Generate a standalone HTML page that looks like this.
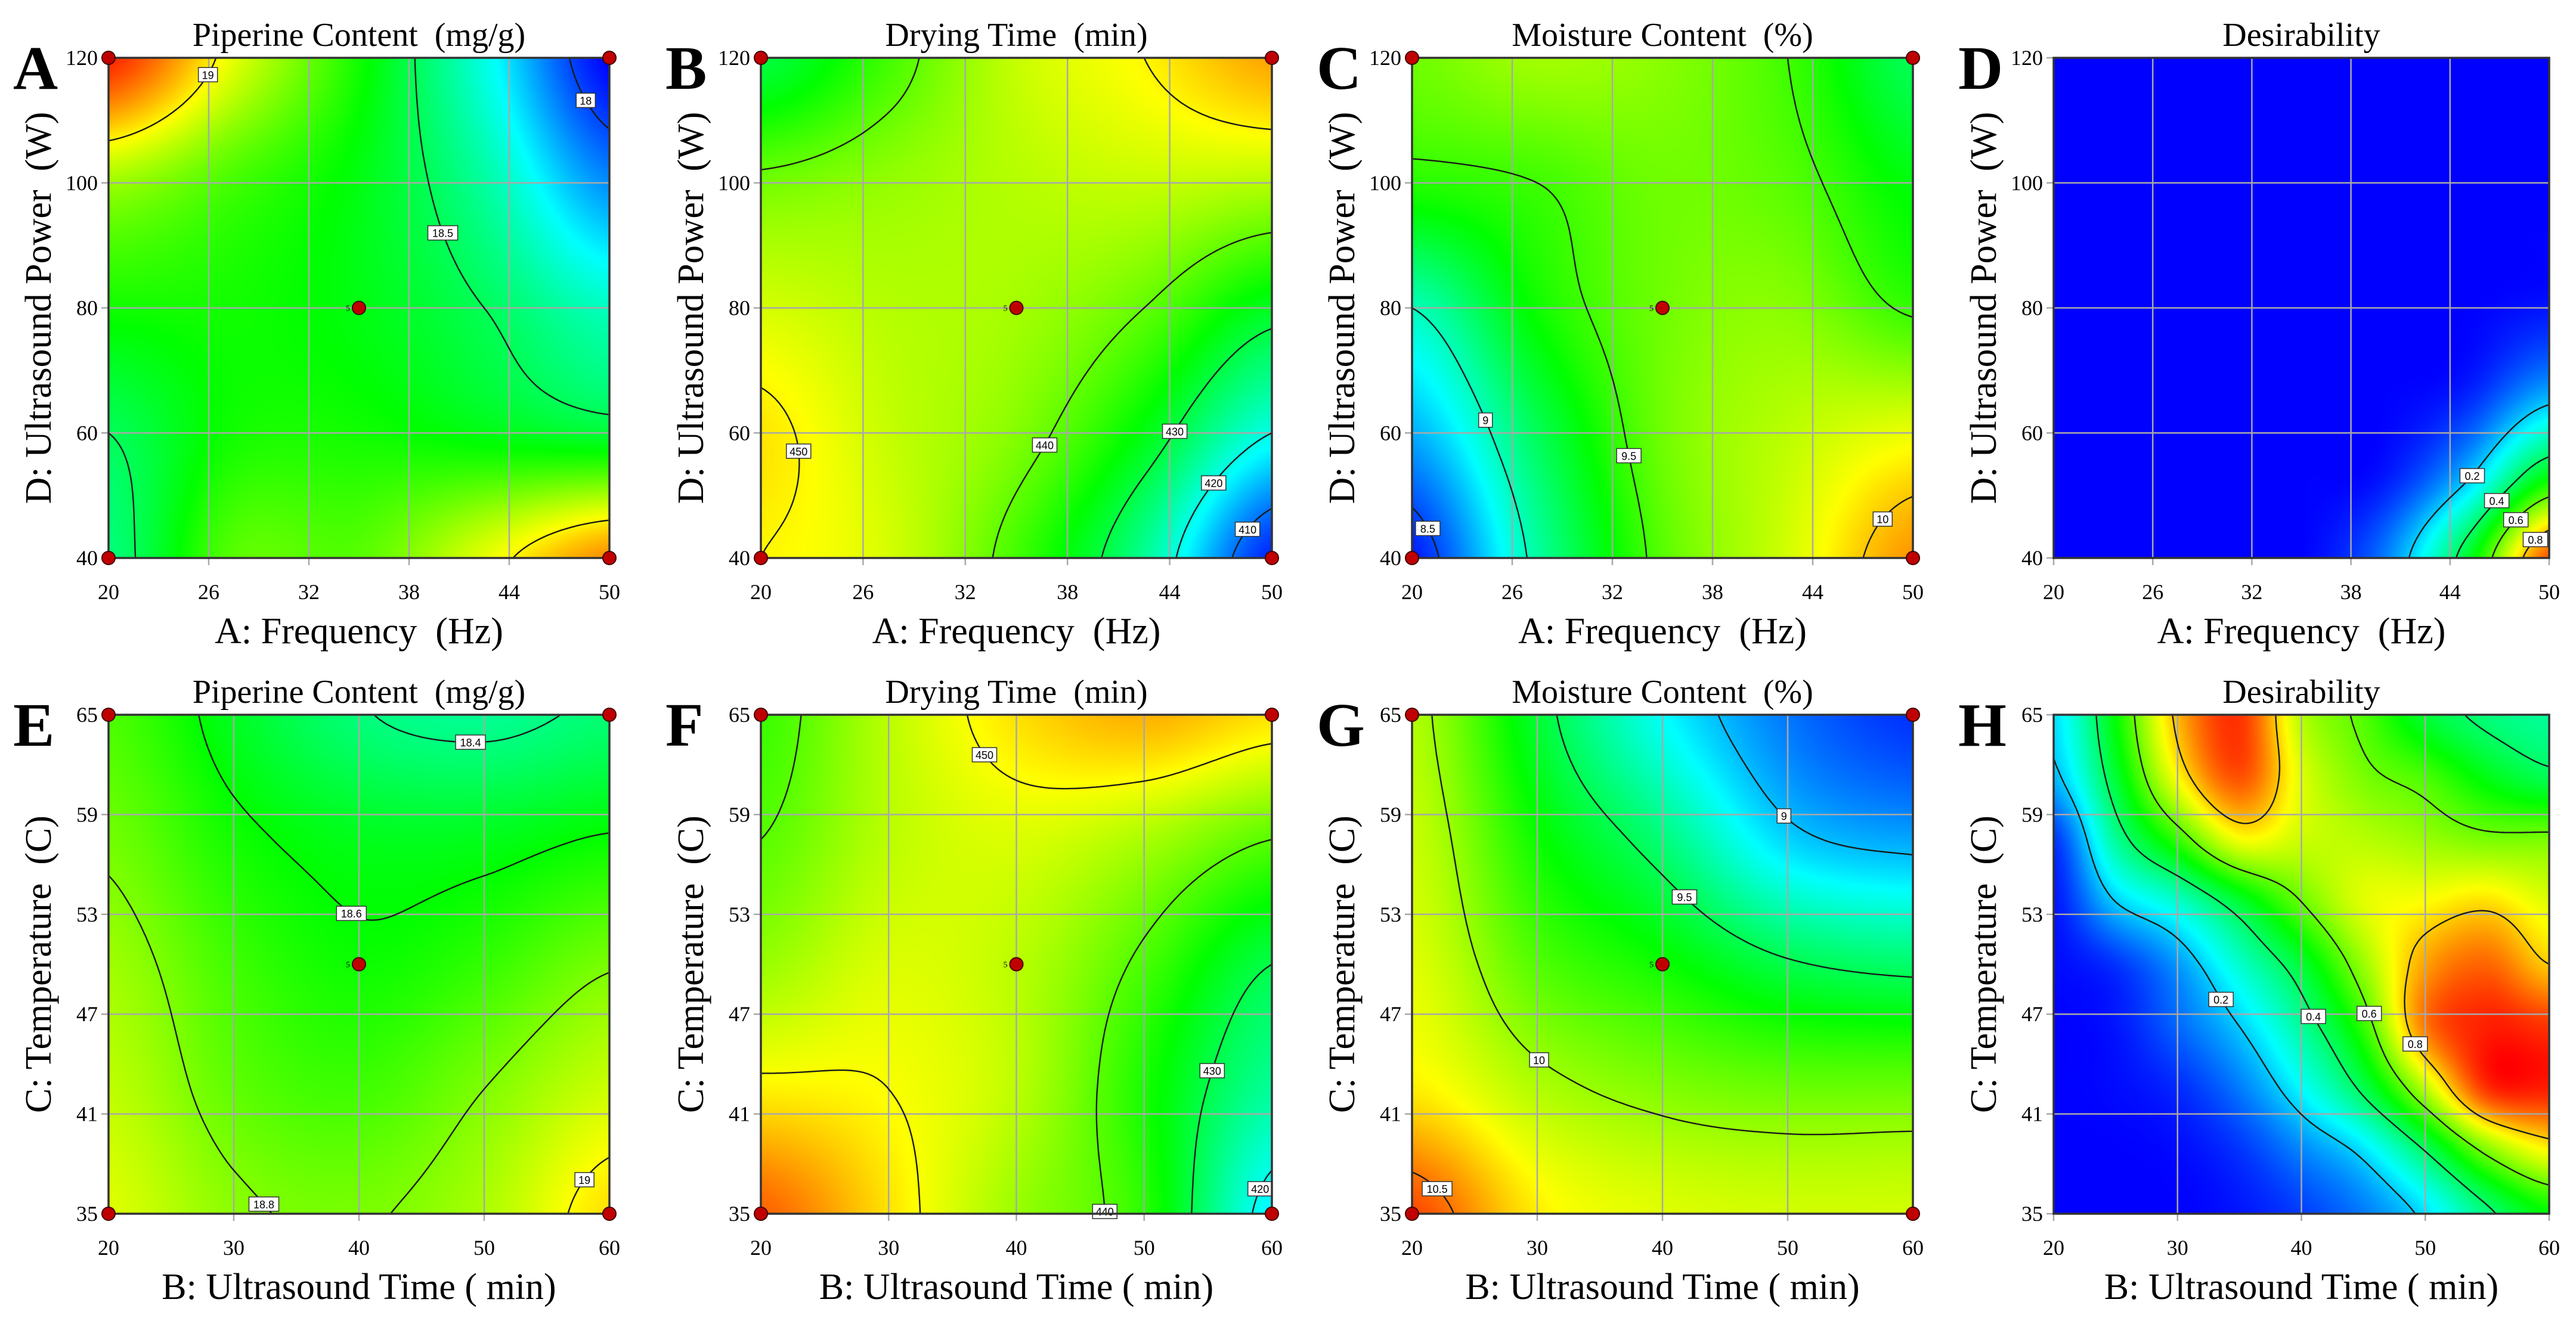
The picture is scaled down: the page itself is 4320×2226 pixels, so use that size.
<!DOCTYPE html>
<html><head><meta charset="utf-8">
<style>
html,body{margin:0;padding:0;background:#fff;}
#root{position:relative;width:4320px;height:2226px;overflow:hidden;background:#fff;}
canvas{position:absolute;}
svg{position:absolute;left:0;top:0;}
text{font-family:"Liberation Serif",serif;}
</style></head>
<body>
<div id="root">
<svg id="ov" width="4320" height="2226"></svg>
</div>
<script>
// ---- data (rows from low y-value to high y-value, columns low x to high x) ----
const gridA=[[18.45,18.75,18.75,18.95,19.15],[18.5,18.65,18.65,18.6,18.55],[18.65,18.65,18.6,18.5,18.35],[18.85,18.72,18.6,18.4,18.1],[19.3,18.95,18.65,18.3,17.9]];
const gridB=[[450,447,438,425,405],[451,446,442,433,420],[447,445,444,440,432],[441,443,445,446,445],[430,438,446,450,455]];
const gridC=[[8.4,9.05,9.55,9.8,10.1],[8.7,9.2,9.6,9.75,9.85],[9.0,9.4,9.6,9.65,9.48],[9.45,9.5,9.6,9.55,9.35],[9.6,9.7,9.65,9.5,9.2]];
const gridD=[[0,0,0,0,0.12,0.45,0.92],[0,0,0,0,0.02,0.18,0.48],[0,0,0,0,0,0.03,0.16],[0,0,0,0,0,0,0.02],[0,0,0,0,0,0,0],[0,0,0,0,0,0,0],[0,0,0,0,0,0,0]];
const gridE=[[18.95,18.82,18.79,18.87,19.05],[18.9,18.75,18.7,18.8,18.92],[18.85,18.7,18.62,18.68,18.79],[18.78,18.63,18.56,18.56,18.61],[18.72,18.55,18.41,18.37,18.42]];
const gridF=[[460,452,444,437,418],[451,450,446,436,425],[444,448,446,439,430],[440,446,448,445,440],[438,446,452,455,452]];
const gridG=[[10.6,10.25,10.15,10.12,10.12],[10.25,10.05,9.95,9.9,9.9],[10.15,9.85,9.7,9.52,9.45],[10.1,9.7,9.42,9.05,8.95],[10.05,9.57,9.15,8.85,8.7]];
const gridH=[[0,0,0,0.02,0.06,0.12,0.22,0.38,0.5],[0,0,0.01,0.05,0.13,0.22,0.4,0.62,0.75],[0,0.01,0.04,0.12,0.25,0.42,0.68,0.95,0.97],[0,0.02,0.1,0.2,0.35,0.55,0.88,0.97,0.95],[0.01,0.05,0.15,0.3,0.45,0.65,0.84,0.9,0.8],[0.02,0.2,0.3,0.45,0.6,0.72,0.75,0.78,0.72],[0.05,0.35,0.55,0.74,0.7,0.68,0.65,0.62,0.62],[0.18,0.45,0.75,0.92,0.72,0.62,0.57,0.48,0.42],[0.22,0.5,0.82,0.95,0.68,0.58,0.45,0.38,0.35]];
const levelsA=[18,18.5,19];const levelsB=[410,420,430,440,450];const levelsC=[8.5,9,9.5,10];const levelsD=[0.2,0.4,0.6,0.8];
const levelsE=[18.4,18.6,18.8,19];const levelsF=[420,430,440,450];const levelsG=[9,9.5,10,10.5];const levelsH=[0.2,0.4,0.6,0.8];
const colorRange={A:[17.9,19.35],B:[403,465],C:[8.35,10.4],D:[0,1],E:[17.8,19.4],F:[403,466],G:[8.6,10.75],H:[0,1]};
const ticksTopX=[20,26,32,38,44,50];const ticksTopY=[40,60,80,100,120];
const ticksBotX=[20,30,40,50,60];const ticksBotY=[35,41,47,53,59,65];
const titles=["Piperine Content  (mg/g)","Drying Time  (min)","Moisture Content  (%)","Desirability"];

const cols=[[182,1022],[1276,2133],[2368,3208],[3444,4275]];
const rows=[[97,936],[1199,2036]];
const panels=[];
const gA=[gridA,gridB,gridC,gridD],gE=[gridE,gridF,gridG,gridH];
const lA=[levelsA,levelsB,levelsC,levelsD],lE=[levelsE,levelsF,levelsG,levelsH];
for(let r=0;r<2;r++)for(let c=0;c<4;c++){
  const L="ABCDEFGH"[r*4+c];
  panels.push({L,x0:cols[c][0],x1:cols[c][1],y0:rows[r][0],y1:rows[r][1],
    grid:r?gE[c]:gA[c],levels:r?lE[c]:lA[c],cr:colorRange[L],title:titles[c],
    xt:r?ticksBotX:ticksTopX,yt:r?ticksBotY:ticksTopY,
    xTitle:r?"B: Ultrasound Time ( min)":"A: Frequency  (Hz)",
    yTitle:r?"C: Temperature  (C)":"D: Ultrasound Power  (W)",
    dots:(c<3),center:r?[40,50]:[35,80]});
}
function cr(p0,p1,p2,p3,t){return 0.5*((2*p1)+(-p0+p2)*t+(2*p0-5*p1+4*p2-p3)*t*t+(-p0+3*p1-3*p2+p3)*t*t*t);}
function sample(g,u,v){
  const R=g.length,C=g[0].length;const fx=u*(C-1),fy=v*(R-1);
  const ix=Math.min(Math.floor(fx),C-2),iy=Math.min(Math.floor(fy),R-2);
  const tx=fx-ix,ty=fy-iy;const rowv=[];
  for(let k=-1;k<=2;k++){const rr=Math.max(0,Math.min(R-1,iy+k));const a=g[rr];
    const q=j=>a[Math.max(0,Math.min(C-1,j))];
    rowv.push(cr(q(ix-1),q(ix),q(ix+1),q(ix+2),tx));}
  return cr(rowv[0],rowv[1],rowv[2],rowv[3],ty);
}
const stops=[[0,0,255],[0,255,255],[0,255,0],[255,255,0],[255,0,0]];
function cmap(t){t=Math.max(0,Math.min(1,t))*4;const i=Math.min(3,Math.floor(t));const f=t-i;
  return stops[i].map((s,k)=>Math.round(s+(stops[i+1][k]-s)*f));}
const NS="http://www.w3.org/2000/svg";const ov=document.getElementById('ov');const root=document.getElementById('root');
function mk(tag,at,txt){const e=document.createElementNS(NS,tag);for(const k in at)e.setAttribute(k,at[k]);if(txt!==undefined)e.textContent=txt;ov.appendChild(e);return e;}
panels.forEach(p=>{
  const w=p.x1-p.x0,h=p.y1-p.y0;
  const xmin=p.xt[0],xmax=p.xt[p.xt.length-1],ymin=p.yt[0],ymax=p.yt[p.yt.length-1];
  const X=v=>p.x0+(v-xmin)/(xmax-xmin)*w, Y=v=>p.y1-(v-ymin)/(ymax-ymin)*h;
  const RES=180;const cv=document.createElement('canvas');cv.width=RES;cv.height=RES;
  cv.style.left=p.x0+'px';cv.style.top=p.y0+'px';cv.style.width=w+'px';cv.style.height=h+'px';
  
  
  const ctx=cv.getContext('2d');const im=ctx.createImageData(RES,RES);
  for(let j=0;j<RES;j++)for(let i=0;i<RES;i++){
    const val=sample(p.grid,(i+0.5)/RES,1-(j+0.5)/RES);
    const c=cmap((val-p.cr[0])/(p.cr[1]-p.cr[0]));const o=(j*RES+i)*4;
    im.data[o]=c[0];im.data[o+1]=c[1];im.data[o+2]=c[2];im.data[o+3]=255;}
  ctx.putImageData(im,0,0);root.insertBefore(cv,ov);
  p.xt.forEach(t=>{const l=mk('line',{x1:X(t),x2:X(t),y1:p.y0,y2:p.y1+12,stroke:'#a8a8a8','stroke-width':2.5});
    
    });
  p.yt.forEach(t=>{const l=mk('line',{x1:p.x0-12,x2:p.x1,y1:Y(t),y2:Y(t),stroke:'#a8a8a8','stroke-width':2.5});
    
    });
  const N=110;const F=[];for(let j=0;j<=N;j++){F.push([]);for(let i=0;i<=N;i++)F[j].push(sample(p.grid,i/N,j/N));}
  p.levels.forEach(lv=>{
    let d='';const segs=[];
    for(let j=0;j<N;j++)for(let i=0;i<N;i++){
      const a=F[j][i],b=F[j][i+1],c=F[j+1][i+1],e=F[j+1][i];
      const pts=[];const ed=(v1,v2,x1,y1,x2,y2)=>{if((v1<lv)!==(v2<lv)){const t=(lv-v1)/(v2-v1);pts.push([x1+(x2-x1)*t,y1+(y2-y1)*t]);}};
      ed(a,b,i,j,i+1,j);ed(b,c,i+1,j,i+1,j+1);ed(c,e,i+1,j+1,i,j+1);ed(e,a,i,j+1,i,j);
      for(let k=0;k+1<pts.length;k+=2){
        const P=pts[k].map((q,z)=>z?p.y1-q/N*h:p.x0+q/N*w),Q=pts[k+1].map((q,z)=>z?p.y1-q/N*h:p.x0+q/N*w);
        d+=`M${P[0].toFixed(1)} ${P[1].toFixed(1)}L${Q[0].toFixed(1)} ${Q[1].toFixed(1)}`;segs.push([(P[0]+Q[0])/2,(P[1]+Q[1])/2]);}
    }
    if(!d)return;
    const path=mk('path',{d,stroke:'#1a1a1a','stroke-width':2.4,fill:'none'});
    
    
    segs.sort((s1,s2)=>s1[0]-s2[0]);const s=segs[Math.floor(segs.length/2)];
    const bw=String(lv).length*9+14;
    const box=mk('rect',{x:s[0]-bw/2,y:s[1]-12,width:bw,height:24,fill:'#fff',stroke:'#333','stroke-width':1.5});
    
    
    const lt=mk('text',{x:s[0],y:s[1]+7,'text-anchor':'middle','font-size':18,style:'font-family:"Liberation Sans",sans-serif'},String(lv));
    
    
  });
  const fr=mk('rect',{x:p.x0,y:p.y0,width:w,height:h,fill:'none',stroke:'#333','stroke-width':3.5});
  
  
  p.xt.forEach(t=>{const tx=mk('text',{x:X(t),y:p.y1+69,'text-anchor':'middle','font-size':36},String(t));
    
    });
  p.yt.forEach(t=>{const tx=mk('text',{x:p.x0-18,y:Y(t)+12,'text-anchor':'end','font-size':36},String(t));
    
    });
  if(p.dots){[[xmin,ymin],[xmin,ymax],[xmax,ymin],[xmax,ymax],p.center].forEach(pt=>{
    const dc=mk('circle',{cx:X(pt[0]),cy:Y(pt[1]),r:11,fill:'#c00000',stroke:'#400','stroke-width':2});
    
    });
    const ct=mk('text',{x:X(p.center[0])-22,y:Y(p.center[1])+5,'font-size':14},'5');
    
    }
  const cx=(p.x0+p.x1)/2;
  const tt=mk('text',{x:cx,y:p.y0-20,'text-anchor':'middle','font-size':56,style:'white-space:pre'},p.title);
  
  
  const xt=mk('text',{x:cx,y:p.y1+143,'text-anchor':'middle','font-size':62,style:'white-space:pre'},p.xTitle);
  
  
  const yx=p.x0-97,yy=(p.y0+p.y1)/2;
  const yt=mk('text',{x:yx,y:yy,'text-anchor':'middle','font-size':62,transform:`rotate(-90 ${yx} ${yy})`,style:'white-space:pre'},p.yTitle);
  
  
  const lt=mk('text',{x:p.x0-160,y:p.y0+52,'font-size':104,'font-weight':'bold'},p.L);
  
  
});
</script>
</body></html>
